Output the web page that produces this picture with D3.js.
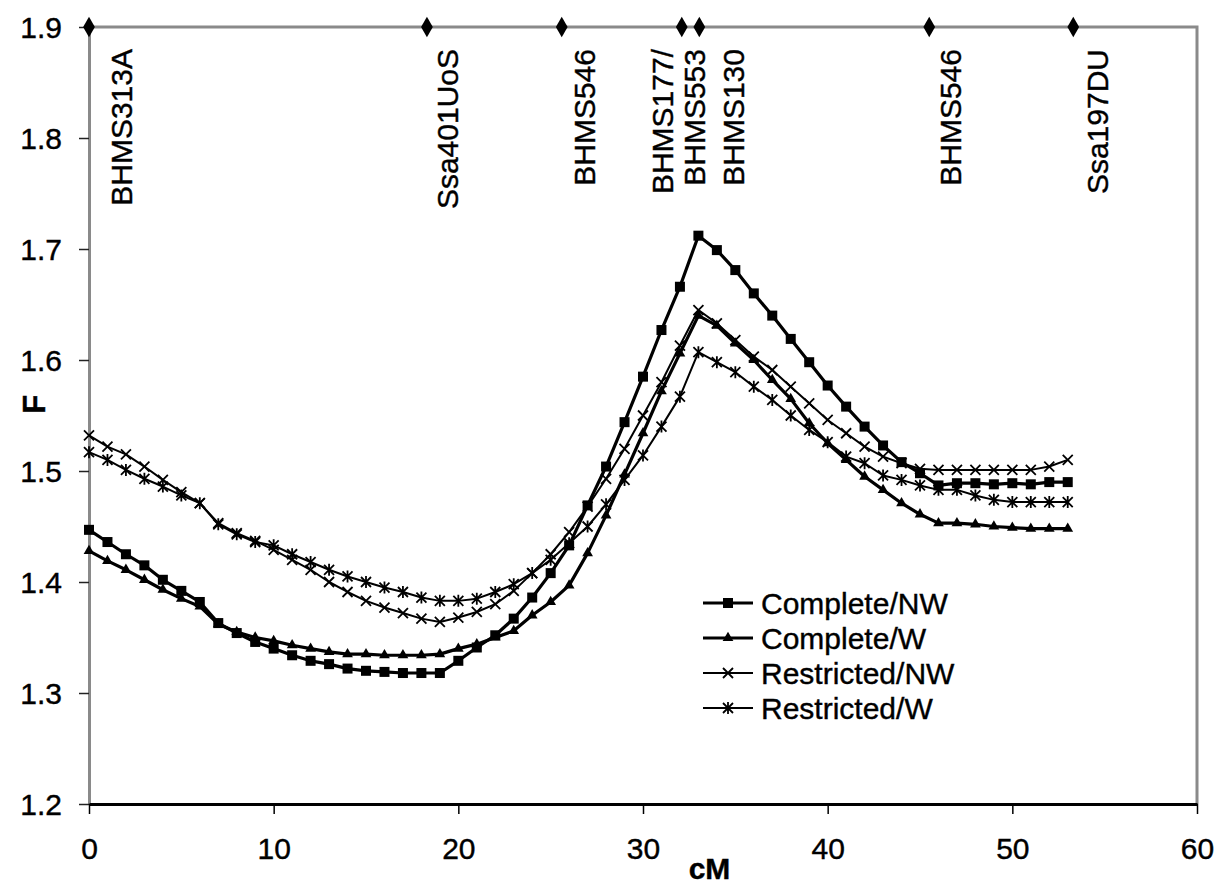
<!DOCTYPE html>
<html>
<head>
<meta charset="utf-8">
<title>F profile along the linkage group</title>
<script src="https://cdn.jsdelivr.net/npm/d3@7/dist/d3.min.js"></script>
<style>
  body { margin: 0; background: #fff; }
  svg text { font-family: "Liberation Sans", Arial, sans-serif; fill: #000; stroke: #000; stroke-width: 0.4px; }
</style>
</head>
<body>
<svg id="chart" width="1216" height="886"></svg>
<script>
// map position (cM), one value per integer cM from 0 to 53
var cM = d3.range(0, 54);

var completeNW = [1.447, 1.436, 1.425, 1.415, 1.402, 1.392, 1.382, 1.363, 1.354, 1.346,
  1.340, 1.334, 1.329, 1.326, 1.322, 1.320, 1.319, 1.318, 1.318, 1.318,
  1.329, 1.341, 1.352, 1.367, 1.386, 1.408, 1.433, 1.469, 1.504, 1.544,
  1.585, 1.627, 1.666, 1.712, 1.699, 1.681, 1.660, 1.640, 1.619, 1.598,
  1.577, 1.558, 1.540, 1.523, 1.508, 1.498, 1.487, 1.489, 1.489, 1.488,
  1.489, 1.488, 1.490, 1.490];

var completeW = [1.428, 1.419, 1.411, 1.402, 1.393, 1.385, 1.378, 1.362, 1.355, 1.350,
  1.347, 1.343, 1.340, 1.337, 1.335, 1.335, 1.334, 1.334, 1.334, 1.335,
  1.340, 1.344, 1.350, 1.356, 1.370, 1.382, 1.397, 1.426, 1.460, 1.497,
  1.534, 1.572, 1.606, 1.640, 1.631, 1.615, 1.600, 1.582, 1.565, 1.543,
  1.525, 1.510, 1.495, 1.483, 1.471, 1.461, 1.453, 1.453, 1.452, 1.450,
  1.449, 1.448, 1.448, 1.448];

var restrictedNW = [1.532, 1.522, 1.515, 1.504, 1.492, 1.481, 1.471, 1.453, 1.444, 1.437,
  1.429, 1.420, 1.411, 1.400, 1.391, 1.383, 1.377, 1.372, 1.367, 1.364,
  1.368, 1.373, 1.380, 1.392, 1.408, 1.425, 1.445, 1.468, 1.493, 1.520,
  1.550, 1.580, 1.613, 1.645, 1.633, 1.618, 1.603, 1.591, 1.576, 1.561,
  1.546, 1.534, 1.522, 1.513, 1.507, 1.502, 1.501, 1.501, 1.501, 1.501,
  1.501, 1.501, 1.504, 1.510];

var restrictedW = [1.517, 1.510, 1.501, 1.493, 1.486, 1.478, 1.471, 1.452, 1.443, 1.436,
  1.433, 1.425, 1.418, 1.411, 1.405, 1.400, 1.395, 1.391, 1.386, 1.383,
  1.383, 1.385, 1.391, 1.398, 1.408, 1.420, 1.435, 1.450, 1.470, 1.492,
  1.514, 1.540, 1.567, 1.607, 1.598, 1.589, 1.576, 1.564, 1.550, 1.537,
  1.526, 1.513, 1.507, 1.496, 1.492, 1.487, 1.483, 1.483, 1.478, 1.474,
  1.472, 1.472, 1.472, 1.472];

var seriesNames = ["Complete/NW", "Complete/W", "Restricted/NW", "Restricted/W"];

// markers along the top of the plot
var markerPos = [0, 18.3, 25.6, 32.1, 33.05, 45.5, 53.3];
var markerNames = [["BHMS313A"], ["Ssa401UoS"], ["BHMS546"], ["BHMS177/", "BHMS553"],
  ["BHMS130"], ["BHMS546"], ["Ssa197DU"]];
var markerF = 1.9;

var xTicks = [0, 10, 20, 30, 40, 50, 60];
var yTicks = [1.2, 1.3, 1.4, 1.5, 1.6, 1.7, 1.8, 1.9];

// layout / styling
var labelShift = [43, 31, 33, -9, 45, 32, 35];  // px from marker to label baseline
var styles = [
  {symbol: "square", width: 3.2},
  {symbol: "triangle", width: 3.2},
  {symbol: "cross", width: 2},
  {symbol: "star", width: 2}
];

var svg = d3.select("#chart"),
    margin = {top: 27, right: 19, bottom: 82, left: 89},
    width = +svg.attr("width") - margin.left - margin.right,
    height = +svg.attr("height") - margin.top - margin.bottom,
    g = svg.append("g").attr("transform", "translate(" + margin.left + "," + margin.top + ")");

var x = d3.scaleLinear().domain([0, 60]).range([0, width]);
var y = d3.scaleLinear().domain([1.2, 1.9]).range([height, 0]);

// draws one marker shape centred on 0,0
function drawSymbol(sel, kind) {
  if (kind === "square") {
    sel.append("rect").attr("x", -5).attr("y", -5).attr("width", 10).attr("height", 10)
      .attr("fill", "#000");
  } else if (kind === "triangle") {
    sel.append("path").attr("d", d3.symbol().type(d3.symbolTriangle).size(50)())
      .attr("fill", "#000");
  } else if (kind === "cross") {
    sel.append("path").attr("d", "M-5,-5L5,5M-5,5L5,-5")
      .attr("stroke", "#000").attr("stroke-width", 1.8).attr("fill", "none");
  } else if (kind === "star") {
    sel.append("path").attr("d", "M-5,-5L5,5M-5,5L5,-5M0,-6L0,6")
      .attr("stroke", "#000").attr("stroke-width", 1.8).attr("fill", "none");
  }
}

// frame: top and right edges in grey
g.append("path")
  .attr("d", "M0," + y(1.9) + "H" + x(60) + "V" + y(1.2))
  .attr("fill", "none").attr("stroke", "#8a8a8a").attr("stroke-width", 3);

// y axis
var yAxis = g.append("g")
  .call(d3.axisLeft(y).tickValues(yTicks).tickFormat(d3.format(".1f")).tickSize(10).tickSizeOuter(0));
yAxis.select(".domain").attr("stroke", "#8a8a8a").attr("stroke-width", 3);
yAxis.selectAll(".tick line").attr("stroke", "#222").attr("stroke-width", 1.5);
yAxis.selectAll(".tick text").attr("x", -27).attr("dy", "0.36em").style("font-size", "30px");

// x axis
var xAxis = g.append("g")
  .attr("transform", "translate(0," + height + ")")
  .call(d3.axisBottom(x).tickValues(xTicks).tickSize(10).tickSizeOuter(0));
xAxis.select(".domain").attr("stroke", "#000").attr("stroke-width", 3);
xAxis.selectAll(".tick line").attr("stroke", "#000").attr("stroke-width", 1.5);
xAxis.selectAll(".tick text").attr("y", 34).attr("dy", "0.71em").style("font-size", "30px");

// axis titles
g.append("text")
  .attr("x", x(33.6)).attr("y", height + 75)
  .attr("text-anchor", "middle")
  .style("font-size", "30px").style("font-weight", "bold")
  .text("cM");

g.append("text")
  .attr("transform", "translate(" + (-44) + "," + y(1.56) + ") rotate(-90)")
  .attr("text-anchor", "middle")
  .style("font-size", "31px").style("font-weight", "bold")
  .text("F");

// series
var allSeries = [completeNW, completeW, restrictedNW, restrictedW];
var line = d3.line()
  .x(function(d, i) { return x(cM[i]); })
  .y(function(d) { return y(d); });

allSeries.forEach(function(vals, s) {
  g.append("path")
    .datum(vals)
    .attr("fill", "none")
    .attr("stroke", "#000")
    .attr("stroke-width", styles[s].width)
    .attr("stroke-linejoin", "round")
    .attr("d", line);

  g.append("g").selectAll("g")
    .data(vals)
    .join("g")
    .attr("transform", function(d, i) { return "translate(" + x(cM[i]) + "," + y(d) + ")"; })
    .each(function() { drawSymbol(d3.select(this), styles[s].symbol); });
});

// map markers on top
g.append("g").selectAll("path")
  .data(markerPos)
  .join("path")
  .attr("transform", function(d) { return "translate(" + x(d) + "," + y(markerF) + ")"; })
  .attr("d", d3.symbol().type(d3.symbolDiamond).size(120)())
  .attr("fill", "#000");

markerNames.forEach(function(lines, k) {
  lines.forEach(function(txt, j) {
    var bx = x(markerPos[k]) + labelShift[k] + j * 32;
    g.append("text")
      .attr("transform", "translate(" + bx + "," + (y(markerF) + 22) + ") rotate(-90)")
      .attr("text-anchor", "end")
      .style("font-size", "30px")
      .text(txt);
  });
});

// legend
var legend = g.append("g")
  .attr("transform", "translate(" + (703 - margin.left) + "," + (603 - margin.top) + ")");

seriesNames.forEach(function(name, s) {
  var row = legend.append("g").attr("transform", "translate(0," + (s * 35) + ")");
  row.append("line")
    .attr("x1", 0).attr("x2", 50)
    .attr("stroke", "#000").attr("stroke-width", styles[s].width);
  var m = row.append("g").attr("transform", "translate(25,0)");
  drawSymbol(m, styles[s].symbol);
  row.append("text")
    .attr("x", 58).attr("dy", "0.36em")
    .style("font-size", "30px")
    .text(name);
});
</script>
</body>
</html>
